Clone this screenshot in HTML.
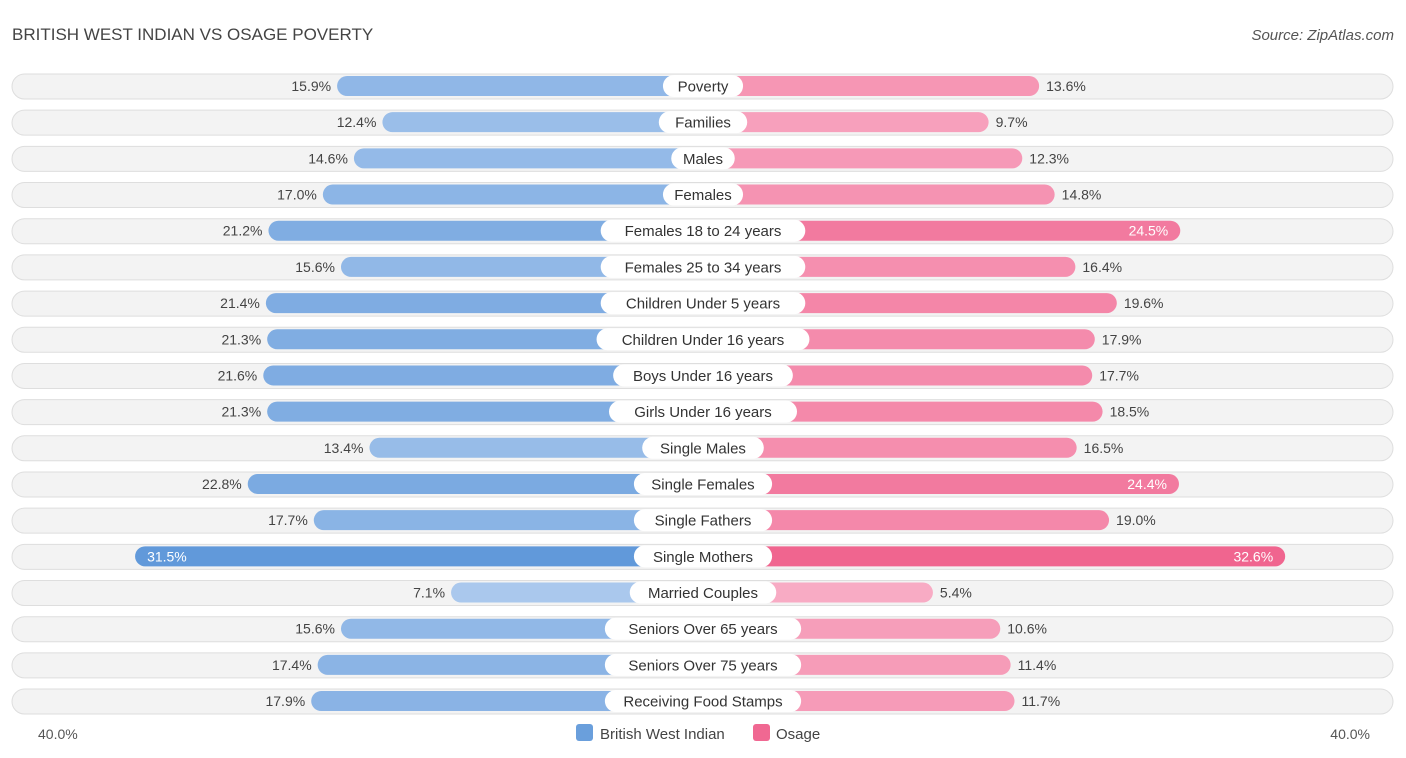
<!DOCTYPE html>
<html><head><meta charset="utf-8">
<style>
body{margin:0;background:#fff;font-family:"Liberation Sans",Arial,sans-serif;}
svg{display:block}
</style></head>
<body>
<svg id="chart" width="1406" height="758" xmlns="http://www.w3.org/2000/svg" font-family="Liberation Sans, Arial, sans-serif">
<text x="12" y="40" font-size="17" fill="#444">BRITISH WEST INDIAN VS OSAGE POVERTY</text>
<text x="1394" y="40" font-size="15" fill="#555" text-anchor="end" font-style="italic">Source: ZipAtlas.com</text>
<g id="rows"></g>
<text x="38" y="739" font-size="14" fill="#555">40.0%</text>
<text x="1370" y="739" font-size="14" fill="#555" text-anchor="end">40.0%</text>
<g>
<rect x="576" y="724" width="17" height="17" rx="3" fill="#6a9fdc"/>
<text x="600" y="739" font-size="15" fill="#444">British West Indian</text>
<rect x="753" y="724" width="17" height="17" rx="3" fill="#f06892"/>
<text x="776" y="739" font-size="15" fill="#444">Osage</text>
</g>
</svg>
<script>
const categories=["Poverty","Families","Males","Females","Females 18 to 24 years","Females 25 to 34 years","Children Under 5 years","Children Under 16 years","Boys Under 16 years","Girls Under 16 years","Single Males","Single Females","Single Fathers","Single Mothers","Married Couples","Seniors Over 65 years","Seniors Over 75 years","Receiving Food Stamps"];
const bwiValues=[15.9,12.4,14.6,17.0,21.2,15.6,21.4,21.3,21.6,21.3,13.4,22.8,17.7,31.5,7.1,15.6,17.4,17.9];
const osageValues=[13.6,9.7,12.3,14.8,24.5,16.4,19.6,17.9,17.7,18.5,16.5,24.4,19.0,32.6,5.4,10.6,11.4,11.7];
const NS="http://www.w3.org/2000/svg";
const cx=703, base=160, pxPer=12.95, y0=86, dy=36.18;
const len=v=>base+v*pxPer;
const xL=v=>cx-len(v), xR=v=>cx+len(v), yRow=i=>y0+i*dy;
function mix(a,b,t){return "rgb("+a.map((c,k)=>Math.round(c+(b[k]-c)*t)).join(",")+")";}
const blueLo=[176,204,239],blueHi=[96,152,218],pinkLo=[248,172,197],pinkHi=[240,100,142];
const g=document.getElementById("rows");
function mk(tag,attrs){const e=document.createElementNS(NS,tag);for(const k in attrs)e.setAttribute(k,attrs[k]);g.appendChild(e);return e;}
categories.forEach((cat,i)=>{
  const y=yRow(i);
  const bg=mk("rect",{x:12,y:y-12,width:1381,height:25,rx:12.5,fill:"#f3f3f3",stroke:"#dedede","stroke-width":1});
  
  
  const b=bwiValues[i],o=osageValues[i];
  const tb=Math.min(1,Math.max(0,(b-5)/27)), to=Math.min(1,Math.max(0,(o-5)/28));
  const lb=mk("rect",{x:xL(b),y:y-10,width:len(b),height:20,rx:10,fill:mix(blueLo,blueHi,tb)});
  
  
  const rb=mk("rect",{x:cx,y:y-10,width:len(o),height:20,rx:10,fill:mix(pinkLo,pinkHi,to)});
  
  
  const inB=b>=24, inO=o>=24;
  const tl=mk("text",{x:inB?xL(b)+12:xL(b)-6,y:y+5,"font-size":14,fill:inB?"#fff":"#444","text-anchor":inB?"start":"end"});
  tl.textContent=b.toFixed(1)+"%";
  
  
  const tr=mk("text",{x:inO?xR(o)-12:xR(o)+7,y:y+5,"font-size":14,fill:inO?"#fff":"#444","text-anchor":inO?"end":"start"});
  tr.textContent=o.toFixed(1)+"%";
  
  
  const w=cat.length*8.3+22;
  const pill=mk("rect",{x:cx-w/2,y:y-11,width:w,height:22,rx:11,fill:"#fff"});
  
  
  const lt=mk("text",{x:cx,y:y+5.5,"font-size":15,fill:"#333","text-anchor":"middle"});
  lt.textContent=cat;
  
  
});
</script>
</body></html>
